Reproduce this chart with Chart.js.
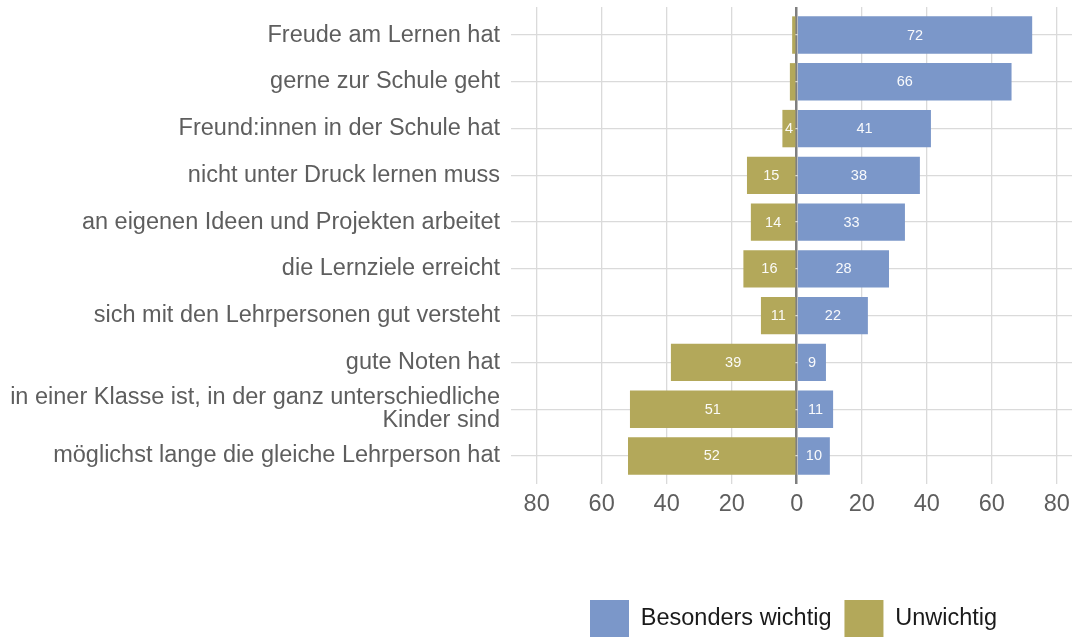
<!DOCTYPE html>
<html>
<head>
<meta charset="utf-8">
<script src="https://cdn.jsdelivr.net/npm/chart.js@4/dist/chart.umd.min.js"></script>
<style>
  html, body { margin: 0; padding: 0; background: #ffffff; }
  #wrap { width: 1072px; height: 637px; position: relative; }
</style>
</head>
<body>
<div id="wrap"><canvas id="c" width="1072" height="637"></canvas></div>
<script>
// ---- data ----
const categories = [
  "Freude am Lernen hat",
  "gerne zur Schule geht",
  "Freund:innen in der Schule hat",
  "nicht unter Druck lernen muss",
  "an eigenen Ideen und Projekten arbeitet",
  "die Lernziele erreicht",
  "sich mit den Lehrpersonen gut versteht",
  "gute Noten hat",
  ["in einer Klasse ist, in der ganz unterschiedliche", "Kinder sind"],
  "möglichst lange die gleiche Lehrperson hat"
];
const besondersWichtig = [72.45, 66.1, 41.3, 37.9, 33.3, 28.4, 21.9, 9.0, 11.2, 10.2];
const unwichtig = [1.4, 2.1, 4.4, 15.3, 14.1, 16.4, 11.0, 38.7, 51.3, 51.9];
const xTicks = [-80, -60, -40, -20, 0, 20, 40, 60, 80];
const seriesNames = ["Besonders wichtig", "Unwichtig"];

const BLUE = "#7b97c9";
const OLIVE = "#b3a85a";
const FONT = "'Liberation Sans', Arial, Helvetica, sans-serif";
const FS = 23.5;

const idx = categories.map((_, i) => i);

const barLabels = {
  id: 'barLabels',
  afterDatasetsDraw(chart) {
    const ctx = chart.ctx;
    ctx.save();
    ctx.font = "14.5px " + FONT;
    ctx.fillStyle = "rgba(255,255,255,0.95)";
    ctx.textAlign = "center";
    ctx.textBaseline = "middle";
    chart.data.datasets.forEach((ds, di) => {
      const meta = chart.getDatasetMeta(di);
      meta.data.forEach((el, i) => {
        const v = Math.abs(ds.data[i].x);
        if (v < 3) return;
        const cx = (el.x + el.base) / 2;
        ctx.fillText(String(Math.round(v)), cx, el.y + 0.5);
      });
    });
    ctx.restore();
  }
};

const legendPlace = {
  id: 'legendPlace',
  beforeDraw(chart) {
    const lg = chart.legend;
    if (!lg) return;
    const h = lg.height;
    lg.left = 577;
    lg.right = 1072;
    lg.top = 587;
    lg.bottom = 587 + h;
  }
};

new Chart(document.getElementById('c'), {
  type: 'bar',
  data: {
    datasets: [
      {
        label: seriesNames[0],
        data: besondersWichtig.map((v, i) => ({ x: v, y: idx[i] })),
        backgroundColor: BLUE,
        borderWidth: 0,
        barPercentage: 0.8,
        categoryPercentage: 1.0
      },
      {
        label: seriesNames[1],
        data: unwichtig.map((v, i) => ({ x: -v, y: idx[i] })),
        backgroundColor: OLIVE,
        borderWidth: 0,
        barPercentage: 0.8,
        categoryPercentage: 1.0
      }
    ]
  },
  options: {
    indexAxis: 'y',
    responsive: false,
    animation: false,
    devicePixelRatio: 1,
    layout: { padding: { top: 7, right: 0, bottom: 0, left: 0 } },
    scales: {
      x: {
        type: 'linear',
        stacked: true,
        min: -87.9,
        max: 84.7,
        afterBuildTicks(scale) { scale.ticks = xTicks.map(v => ({ value: v })); },
        afterFit(scale) { scale.height = 93; scale.paddingLeft = 0; scale.paddingRight = 0; },
        border: { display: false },
        grid: {
          drawTicks: false,
          color: (c) => (c.tick && c.tick.value === 0) ? '#7f7f7f' : '#dadada',
          lineWidth: (c) => (c.tick && c.tick.value === 0) ? 2.5 : 1.3
        },
        ticks: {
          autoSkip: false,
          maxRotation: 0,
          padding: 6,
          color: '#5e5e5e',
          font: { family: FONT, size: FS },
          callback: (v) => String(Math.abs(v))
        }
      },
      y: {
        type: 'linear',
        stacked: true,
        reverse: true,
        offset: false,
        min: -0.6,
        max: 9.6,
        afterBuildTicks(scale) { scale.ticks = idx.map(v => ({ value: v })); },
        afterFit(scale) { scale.width = 511; scale.paddingTop = 0; scale.paddingBottom = 0; },
        border: { display: false },
        grid: { offset: false, drawTicks: false, color: '#dadada', lineWidth: 1.3 },
        ticks: {
          autoSkip: false,
          padding: 11,
          color: '#5e5e5e',
          font: { family: FONT, size: FS, lineHeight: 1.0 },
          callback: (v) => categories[v]
        }
      }
    },
    plugins: {
      legend: {
        position: 'bottom',
        align: 'start',
        labels: {
          boxWidth: 39,
          boxHeight: 37,
          padding: 13,
          color: '#1a1a1a',
          font: { family: FONT, size: FS }
        }
      },
      tooltip: { enabled: false }
    }
  },
  plugins: [barLabels, legendPlace]
});
</script>
</body>
</html>
